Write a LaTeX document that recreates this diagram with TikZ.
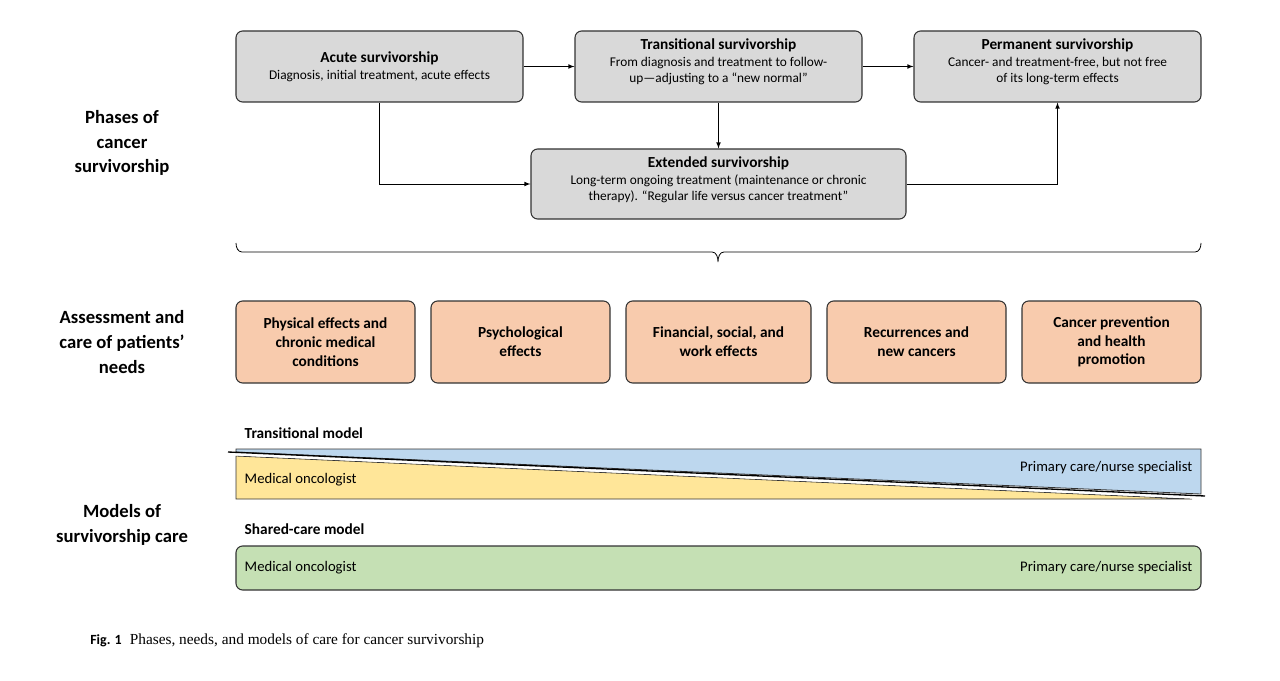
\documentclass[tikz,border=0pt]{standalone}
\usepackage{fontspec}
\setmainfont{Carlito}
\newfontfamily\capserif{Liberation Serif}
\definecolor{boxgray}{HTML}{D9D9D9}
\definecolor{needor}{HTML}{F8CBAD}
\definecolor{blu}{HTML}{BDD7EE}
\definecolor{yel}{HTML}{FFE699}
\definecolor{grn}{HTML}{C5E0B4}
\begin{document}
\begin{tikzpicture}[x=0.75pt,y=-0.75pt,
 phase/.style={draw=black!80,fill=boxgray,rounded corners=5pt,line width=0.8pt,align=center,inner sep=0pt},
 need/.style={draw=black!80,fill=needor,rounded corners=5pt,line width=0.8pt,align=center,inner sep=0pt,font=\fontsize{11.5}{14}\selectfont\bfseries},
 side/.style={align=center,font=\fontsize{14}{18.5}\selectfont\bfseries},
 conn/.style={-latex,line width=0.6pt},
 tt/.style={font=\fontsize{11.5}{13}\selectfont\bfseries},
 sub/.style={font=\fontsize{10}{12.5}\selectfont}]
\useasboundingbox (0,0) rectangle (1280,681);
% phase boxes
\node[phase,minimum width=287*0.75pt,minimum height=71*0.75pt] (acute) at (379.5,66.5) {{\fontsize{11.5}{13}\selectfont\bfseries Acute survivorship}\\[1pt]{\fontsize{10}{12.5}\selectfont Diagnosis, initial treatment, acute effects}};
\node[phase,minimum width=287*0.75pt,minimum height=71*0.75pt] (trans) at (718.5,66.5) {};
\node[align=center] (transt) at (718.5,62) {{\fontsize{11.5}{13}\selectfont\bfseries Transitional survivorship}\\[1pt]{\fontsize{10}{12.5}\selectfont From diagnosis and treatment to follow-}\\{\fontsize{10}{12.5}\selectfont up\textemdash adjusting to a “new normal”}};
\node[phase,minimum width=287*0.75pt,minimum height=71*0.75pt] (perm) at (1057.5,66.5) {};
\node[align=center] (permt) at (1057.5,62) {{\fontsize{11.5}{13}\selectfont\bfseries Permanent survivorship}\\[1pt]{\fontsize{10}{12.5}\selectfont Cancer- and treatment-free, but not free}\\{\fontsize{10}{12.5}\selectfont of its long-term effects}};
\node[phase,minimum width=375*0.75pt,minimum height=70*0.75pt] (ext) at (718.5,184) {};
\node[align=center] (extt) at (718.5,180) {{\fontsize{11.5}{13}\selectfont\bfseries Extended survivorship}\\[1pt]{\fontsize{10}{12.5}\selectfont Long-term ongoing treatment (maintenance or chronic}\\{\fontsize{10}{12.5}\selectfont therapy). “Regular life versus cancer treatment”}};
\draw[conn] (acute.east) -- (trans.west);
\draw[conn] (trans.east) -- (perm.west);
\draw[conn] (trans.south) -- (ext.north);
\draw[conn] (acute.south) |- (ext.west);
\draw[conn] (ext.east) -| (perm.south);
% brace
\draw[line width=0.6pt] (236,243) to[out=-90,in=180] (242,252) -- (712,252) to[out=0,in=90] (718,262) to[out=90,in=180] (724,252) -- (1195,252) to[out=0,in=-90] (1201,243);
% side labels
\node[side] (l1) at (122,143) {Phases of\\cancer\\survivorship};
\node[side] (l2) at (122,342) {Assessment and\\care of patients’\\needs};
\node[side] (l3) at (122,525) {Models of\\survivorship care};
% needs
\foreach \n/\a/\b/\t in {n1/236/415/{Physical effects and\\chronic medical\\conditions},n2/431/610/{Psychological\\effects},n3/626/811/{Financial, social, and\\work effects},n4/827/1006/{Recurrences and\\new cancers},n5/1022/1201/{Cancer prevention\\and health\\promotion}}
  \node[need,minimum width={(\b-\a)*0.75pt},minimum height=82*0.75pt] (\n) at ({(\a+\b)/2},342) {\t};
% transitional model
\node[tt,anchor=west] (tm) at (240,433) {Transitional model};
\fill[blu,draw=black!80,line width=0.6pt] (236,449) -- (1201,449) -- (1201,494) -- (236,452) -- cycle;
\fill[yel,draw=black!80,line width=0.6pt] (236,456) -- (1192,499) -- (236,499) -- cycle;
\draw[white,line width=2.5pt] (228,453.5) -- (1205,497.5);
\draw[black,line width=1pt] (228,452) -- (1205,496);
\node[sub,anchor=west,font=\fontsize{11}{13}\selectfont] (mo1) at (240,480) {Medical oncologist};
\node[anchor=east,font=\fontsize{11}{13}\selectfont] (pc1) at (1197,468) {Primary care/nurse specialist};
% shared care
\node[tt,anchor=west] (sm) at (240,529) {Shared-care model};
\draw[fill=grn,draw=black!80,line width=0.8pt,rounded corners=5pt] (236,546) rectangle (1201,590);
\node[anchor=west,font=\fontsize{11}{13}\selectfont] (mo2) at (240,568) {Medical oncologist};
\node[anchor=east,font=\fontsize{11}{13}\selectfont] (pc2) at (1197,568) {Primary care/nurse specialist};
% caption
\node[anchor=west,inner sep=0pt] (cap) at (90,641) {{\fontsize{10.5}{13}\selectfont\bfseries Fig. 1}\hspace{6pt}{\capserif\fontsize{11.5}{13}\selectfont Phases, needs, and models of care for cancer survivorship}};
\end{tikzpicture}
\end{document}
